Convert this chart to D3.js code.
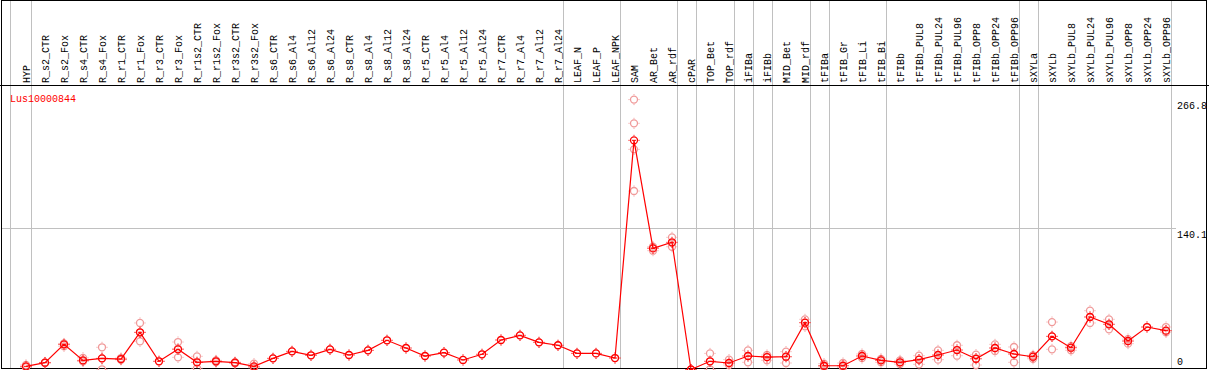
<!DOCTYPE html>
<html>
<head>
<meta charset="utf-8">
<script src="https://cdn.jsdelivr.net/npm/d3@7"></script>
<style>
  body { margin: 0; background: #fff; }
  svg { display: block; }
  text { font-family: "Liberation Mono", "DejaVu Sans Mono", monospace; font-size: 10px; }
</style>
</head>
<body>
<svg width="1209" height="370"></svg>
<script>
// sample names, left to right
const samples = ["HYP", "R_s2_CTR", "R_s2_Fox", "R_s4_CTR", "R_s4_Fox", "R_r1_CTR", "R_r1_Fox",
  "R_r3_CTR", "R_r3_Fox", "R_r1s2_CTR", "R_r1s2_Fox", "R_r3s2_CTR", "R_r3s2_Fox",
  "R_s6_CTR", "R_s6_Al4", "R_s6_Al12", "R_s6_Al24", "R_s8_CTR", "R_s8_Al4", "R_s8_Al12", "R_s8_Al24",
  "R_r5_CTR", "R_r5_Al4", "R_r5_Al12", "R_r5_Al24", "R_r7_CTR", "R_r7_Al4", "R_r7_Al12", "R_r7_Al24",
  "LEAF_N", "LEAF_P", "LEAF_NPK", "SAM", "AR_Bet", "AR_rdf", "cPAR", "TOP_Bet", "TOP_rdf",
  "iFIBa", "iFIBb", "MID_Bet", "MID_rdf", "tFIBa", "tFIB_Gr", "tFIB_Li", "tFIB_Bi", "tFIBb",
  "tFIBb_PUL8", "tFIBb_PUL24", "tFIBb_PUL96", "tFIBb_OPP8", "tFIBb_OPP24", "tFIBb_OPP96",
  "sXYLa", "sXYLb", "sXYLb_PUL8", "sXYLb_PUL24", "sXYLb_PUL96", "sXYLb_OPP8", "sXYLb_OPP24", "sXYLb_OPP96"];

// mean expression per sample
const means = [3.6, 7.2, 25.3, 9.5, 11.5, 10.8, 37.2, 8.6, 20.4, 7.6, 8.6, 7.2, 3.6,
  11.5, 18.4, 14.5, 20.4, 14.8, 19.4, 29.3, 21.7, 13.8, 17.1, 9.9, 15.5, 29.6, 34.2, 27.3, 24.4,
  16.4, 16.4, 11.8, 226.6, 120.0, 126.0, 0.5, 8.6, 6.9, 13.8, 12.8, 13.1, 46.7,
  4.2, 4.2, 13.8, 9.5, 7.6, 10.2, 14.8, 19.7, 11.1, 21.7, 15.8,
  13.1, 33.2, 22.0, 52.3, 45.1, 28.6, 42.4, 38.8];

// individual replicates per sample
const replicates = [[5.0, 3.0, 2.8], [7.5, 7.0, 7.1], [26.2, 25.0, 23.4], [12.0, 9.0, 8.5],
  [22.4, 11.4, 0.7], [11.8, 10.5, 10.0], [46.4, 37.0, 28.3], [8.6], [27.6, 21.0, 12.5],
  [13.5, 7.6, 1.7], [9.5, 8.6, 7.8], [7.8, 7.2, 6.6], [6.2, 2.5, 2.1],
  [11.5], [18.4], [14.5], [20.4], [14.8], [19.4], [29.3], [21.7], [13.8], [17.1], [9.9], [15.5],
  [29.6], [34.2], [27.3], [24.4], [16.4], [16.4], [11.8],
  [266.8, 243.4, 217.7, 176.6], [121.6, 117.7, 120.5], [130.9, 121.6, 125.5], [0.5],
  [16.4, 8.6, 0.7], [10.2, 6.9, 4.9], [19.4, 13.8, 7.6], [14.8, 12.8, 9.6], [18.1, 13.1, 6.9],
  [50.0, 46.7, 43.1], [6.2, 4.2, 3.0], [6.9, 4.2, 2.5], [15.8, 13.8, 11.8], [11.0, 9.5, 7.6],
  [9.5, 7.6, 5.8], [14.1, 10.2, 5.6], [19.4, 14.8, 10.2], [24.4, 19.7, 14.1], [15.1, 11.1, 4.9],
  [25.3, 21.7, 18.7], [22.7, 15.8, 7.6], [14.5, 13.1, 11.1], [47.3, 33.2, 20.4], [23.5, 22.0, 19.5],
  [58.5, 52.3, 46.4], [50.0, 45.1, 40.1], [30.5, 28.6, 26.0], [42.4], [42.4, 38.8, 37.2]];

// last sample of each group (vertical separators)
const groupEnds = ["HYP", "R_r7_Al24", "LEAF_NPK", "AR_rdf", "cPAR", "TOP_rdf", "iFIBa", "iFIBb",
  "MID_rdf", "tFIBa", "tFIB_Bi", "tFIBb_OPP96", "sXYLa", "sXYLb_OPP96"];

const gene = "Lus10000844";
const yTicks = [266.8, 140.1, 0];

const svg = d3.select("svg");
const x = d3.scalePoint().domain(samples).range([26, 1166]);
const y = d3.scaleLinear().domain([0, 266.8]).range([370, 99.6]);

// separators
svg.append("line").attr("x1", 10.5).attr("x2", 10.5).attr("y1", 0).attr("y2", 369)
  .attr("stroke", "#c0c0c0");
svg.selectAll("line.sep").data(groupEnds).enter().append("line")
  .attr("class", "sep")
  .attr("x1", d => Math.round(x(d) + 4.7) + 0.5)
  .attr("x2", d => Math.round(x(d) + 4.7) + 0.5)
  .attr("y1", 0).attr("y2", 369)
  .attr("stroke", "#c0c0c0");

// grid line at middle tick
svg.append("line")
  .attr("x1", 1).attr("x2", 1176)
  .attr("y1", Math.round(y(140.1)) + 0.5).attr("y2", Math.round(y(140.1)) + 0.5)
  .attr("stroke", "#c0c0c0");

// frame and header
svg.append("rect").attr("x", 1.5).attr("y", 0.5).attr("width", 1205).attr("height", 368)
  .attr("fill", "none").attr("stroke", "#000");
svg.append("line").attr("x1", 0).attr("x2", 1209).attr("y1", 85.5).attr("y2", 85.5)
  .attr("stroke", "#000");

// column labels
svg.selectAll("text.col").data(samples).enter().append("text")
  .attr("class", "col")
  .attr("transform", d => `translate(${x(d) + 4},83) rotate(-90)`)
  .attr("fill", "#000")
  .text(d => d);

// right axis labels
svg.selectAll("text.ytick").data(yTicks).enter().append("text")
  .attr("class", "ytick")
  .attr("x", 1177)
  .attr("y", d => Math.min(y(d) + 9.5, 365))
  .attr("fill", "#000")
  .text(d => d);

svg.append("text").attr("x", 10).attr("y", 102).attr("fill", "red").text(gene);

// marker: circle with small ticks
function marker(g, color, bar) {
  g.append("circle").attr("r", 3.5).attr("fill", "none").attr("stroke", color).attr("stroke-width", 1.3);
  g.append("path").attr("d", "M0,-4.5V-5.5M0,4.5V5.5M-4.5,0H-5.5M4.5,0H5.5")
    .attr("stroke", color).attr("stroke-width", 1);
  if (bar) g.append("path").attr("d", "M-2,0H2").attr("stroke", color).attr("stroke-width", 1);
}

// replicates
const repPts = [];
replicates.forEach((r, i) => r.forEach(v => repPts.push({ s: samples[i], v })));
svg.selectAll("g.rep").data(repPts).enter().append("g")
  .attr("class", "rep")
  .attr("transform", d => `translate(${x(d.s)},${y(d.v)})`)
  .each(function () { marker(d3.select(this), "#f09a9a", false); });

// mean line
const line = d3.line().x((d, i) => x(samples[i])).y(d => y(d));
svg.append("path").datum(means).attr("d", line)
  .attr("fill", "none").attr("stroke", "red").attr("stroke-width", 1.2);

svg.selectAll("g.mean").data(means).enter().append("g")
  .attr("class", "mean")
  .attr("transform", (d, i) => `translate(${x(samples[i])},${y(d)})`)
  .each(function () { marker(d3.select(this), "red", true); });
</script>
</body>
</html>
